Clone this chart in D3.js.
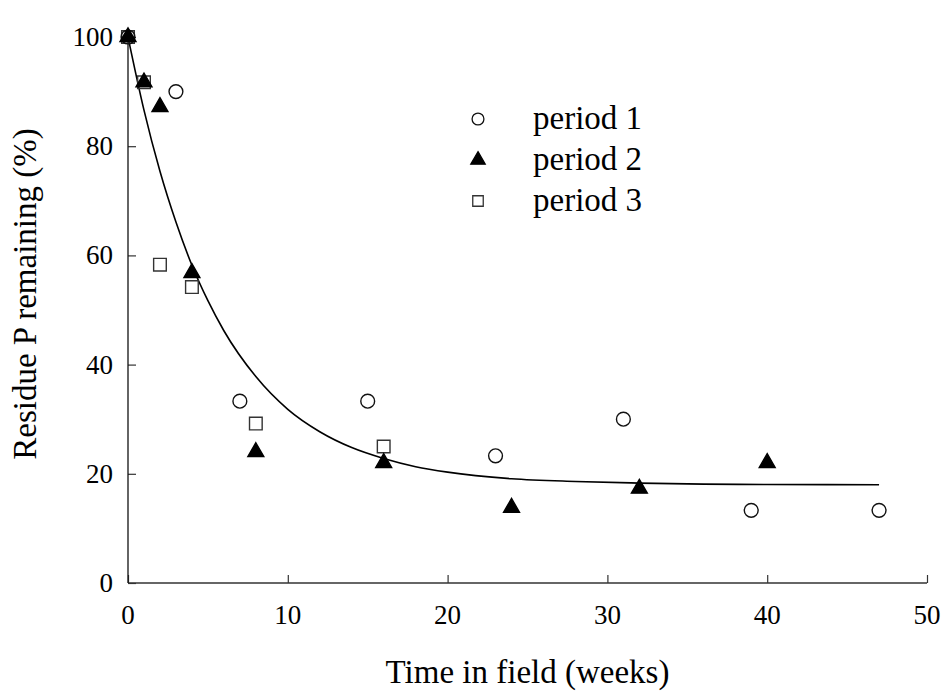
<!DOCTYPE html>
<meta charset="utf-8">
<style>
    body {
        margin: 0;
        background: #fff;
        font-family: "Liberation Serif", "Times New Roman", serif;
    }
</style>
<body>
<script src="https://cdn.jsdelivr.net/npm/d3@7"></script>
<script>

// data
var period1X = [0, 3, 7, 15, 23, 31, 39, 47];
var period1Y = [100, 90, 33.3, 33.3, 23.3, 30, 13.3, 13.3];

var period2X = [0, 1, 2, 4, 8, 16, 24, 32, 40];
var period2Y = [100, 91.7, 87.2, 56.8, 24, 22, 13.8, 17.3, 22];

var period3X = [0, 1, 2, 4, 8, 16];
var period3Y = [100, 91.7, 58.3, 54.2, 29.2, 25];

// fitted curve, read at intervals along the line
var fitX = [0, 1, 2, 3, 4, 5, 6, 8, 10, 12, 14, 16, 18, 20, 24, 28, 32, 36, 40, 47];
var fitY = [100, 86.6, 75.4, 66.1, 58.2, 51.7, 46.2, 37.8, 31.8, 27.7, 24.8, 22.8, 21.3, 20.3, 19.1, 18.6, 18.3, 18.1, 18.05, 18];

var xTicks = [0, 10, 20, 30, 40, 50];
var yTicks = [0, 20, 40, 60, 80, 100];
var legendLabels = ["period 1", "period 2", "period 3"];

var width = 946, height = 692;
var margin = {top: 37, right: 19, bottom: 109, left: 128};

var svg = d3.select("body").append("svg")
    .attr("width", width)
    .attr("height", height);

var x = d3.scaleLinear().domain([0, 50]).range([margin.left, width - margin.right]);
var y = d3.scaleLinear().domain([0, 100]).range([height - margin.bottom, margin.top]);

// axes, ticks pointing inward
svg.append("g")
    .attr("transform", "translate(0," + y(0) + ")")
    .call(d3.axisTop(x).tickValues(xTicks).tickSize(8).tickFormat(""));
svg.append("g")
    .attr("transform", "translate(" + x(0) + ",0)")
    .call(d3.axisRight(y).tickValues(yTicks).tickSize(8).tickFormat(""));

svg.selectAll(".domain").remove();
svg.selectAll(".tick line").attr("stroke", "#333").attr("stroke-width", 1.2);

svg.append("line")
    .attr("x1", x(0)).attr("x2", x(50))
    .attr("y1", y(0)).attr("y2", y(0))
    .attr("stroke", "#333").attr("stroke-width", 1.3);
svg.append("line")
    .attr("x1", x(0)).attr("x2", x(0))
    .attr("y1", y(0)).attr("y2", y(100))
    .attr("stroke", "#111").attr("stroke-width", 1.3);

// tick labels
svg.selectAll(".xlab")
    .data(xTicks)
  .enter().append("text")
    .attr("x", function(d) { return x(d); })
    .attr("y", y(0) + 41)
    .attr("text-anchor", "middle")
    .style("font-size", "27px")
    .text(function(d) { return d; });

svg.selectAll(".ylab")
    .data(yTicks)
  .enter().append("text")
    .attr("x", x(0) - 15)
    .attr("y", function(d) { return y(d) + 9; })
    .attr("text-anchor", "end")
    .style("font-size", "27px")
    .text(function(d) { return d; });

// axis titles
svg.append("text")
    .attr("x", (x(0) + x(50)) / 2)
    .attr("y", 683)
    .attr("text-anchor", "middle")
    .style("font-size", "33px")
    .text("Time in field (weeks)");

svg.append("text")
    .attr("transform", "translate(36,294) rotate(-90)")
    .attr("text-anchor", "middle")
    .style("font-size", "33px")
    .text("Residue P remaining (%)");

// fitted curve
var line = d3.line()
    .x(function(d, i) { return x(fitX[i]); })
    .y(function(d) { return y(d); })
    .curve(d3.curveMonotoneX);

svg.append("path")
    .datum(fitY)
    .attr("d", line)
    .attr("fill", "none")
    .attr("stroke", "#000")
    .attr("stroke-width", 1.6);

// symbols
var circleSym = d3.symbol().type(d3.symbolCircle).size(150);
var triSym = d3.symbol().type(d3.symbolTriangle).size(110);
var sqSym = d3.symbol().type(d3.symbolSquare).size(160);

function drawPoints(xs, ys, sym, fill, stroke) {
  svg.append("g").selectAll("path")
      .data(ys)
    .enter().append("path")
      .attr("transform", function(d, i) { return "translate(" + x(xs[i]) + "," + y(d) + ")"; })
      .attr("d", sym)
      .attr("fill", fill)
      .attr("stroke", stroke)
      .attr("stroke-width", 1.4);
}

drawPoints(period3X, period3Y, sqSym, "none", "#333");
drawPoints(period1X, period1Y, circleSym, "none", "#111");
drawPoints(period2X, period2Y, triSym, "#000", "#000");

// legend
var legend = svg.append("g");
var legendSyms = [
  {sym: d3.symbol().type(d3.symbolCircle).size(110), fill: "none", stroke: "#111"},
  {sym: d3.symbol().type(d3.symbolTriangle).size(90), fill: "#000", stroke: "#000"},
  {sym: d3.symbol().type(d3.symbolSquare).size(110), fill: "none", stroke: "#333"}
];

legendLabels.forEach(function(lab, i) {
  var ly = 119 + i * 41;
  legend.append("path")
      .attr("transform", "translate(478," + ly + ")")
      .attr("d", legendSyms[i].sym)
      .attr("fill", legendSyms[i].fill)
      .attr("stroke", legendSyms[i].stroke)
      .attr("stroke-width", 1.3);
  legend.append("text")
      .attr("x", 533)
      .attr("y", ly + 10)
      .style("font-size", "33px")
      .text(lab);
});

</script>
</body>
